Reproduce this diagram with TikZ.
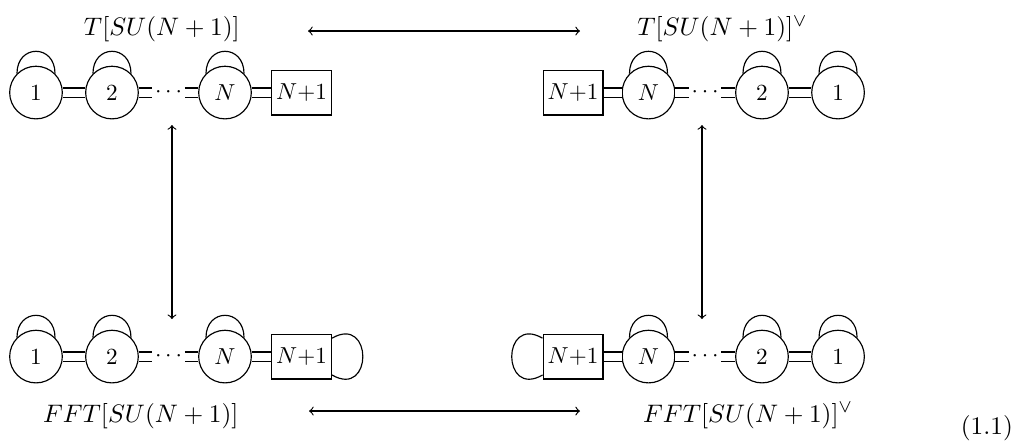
\documentclass[tikz,border=0pt]{standalone}
\newcommand{\lblsize}{\fontsize{10.95}{13.6}\selectfont}
\tikzset{
  gauge/.style={draw,circle,minimum size=0.8cm,inner sep=0pt},
  flav/.style={draw,rectangle,minimum height=0.68cm,inner sep=2pt},
  dotsn/.style={inner sep=1pt},
  dline/.style={double,double distance=3.5pt},
  adj/.style={out=90,in=90,looseness=2},
  lbl/.style={anchor=base,font=\lblsize},
}
\begin{document}
\begin{tikzpicture}[line width=0.5pt]
  \useasboundingbox (0,0) rectangle (15.61,6.78);
  % T[SU(N+1)]
  \node[gauge] (a1) at (0.547,5.373) {$1$};
  \node[gauge] (a2) at (1.702,5.373) {$2$};
  \node[dotsn] (ad) at (2.561,5.373) {$\cdots$};
  \node[gauge] (aN) at (3.420,5.373) {$N$};
  \node[flav] (aF) at (4.583,5.373) {$N{+}1$};
  \draw[dline] (a1) -- (a2);
  \draw[dline] (a2) -- (ad);
  \draw[dline] (ad) -- (aN);
  \draw[dline] (aN) -- (aF);
  \draw (a1.135) to[adj] (a1.45);
  \draw (a2.135) to[adj] (a2.45);
  \draw (aN.135) to[adj] (aN.45);
  % mirror
  \node[flav] (bF) at (8.710,5.373) {$N{+}1$};
  \node[gauge] (bN) at (9.857,5.373) {$N$};
  \node[dotsn] (bd) at (10.716,5.373) {$\cdots$};
  \node[gauge] (b2) at (11.582,5.373) {$2$};
  \node[gauge] (b1) at (12.738,5.373) {$1$};
  \draw[dline] (bF) -- (bN);
  \draw[dline] (bN) -- (bd);
  \draw[dline] (bd) -- (b2);
  \draw[dline] (b2) -- (b1);
  \draw (bN.135) to[adj] (bN.45);
  \draw (b2.135) to[adj] (b2.45);
  \draw (b1.135) to[adj] (b1.45);
  % FFT[SU(N+1)]
  \node[gauge] (c1) at (0.547,1.360) {$1$};
  \node[gauge] (c2) at (1.702,1.360) {$2$};
  \node[dotsn] (cd) at (2.561,1.360) {$\cdots$};
  \node[gauge] (cN) at (3.420,1.360) {$N$};
  \node[flav] (cF) at (4.583,1.360) {$N{+}1$};
  \draw[dline] (c1) -- (c2);
  \draw[dline] (c2) -- (cd);
  \draw[dline] (cd) -- (cN);
  \draw[dline] (cN) -- (cF);
  \draw (c1.135) to[adj] (c1.45);
  \draw (c2.135) to[adj] (c2.45);
  \draw (cN.135) to[adj] (cN.45);
  \draw ([yshift=0.28cm]cF.east) to[out=30,in=-30,looseness=3.3] ([yshift=-0.28cm]cF.east);
  % mirror
  \node[flav] (dF) at (8.710,1.360) {$N{+}1$};
  \node[gauge] (dN) at (9.857,1.360) {$N$};
  \node[dotsn] (dd) at (10.716,1.360) {$\cdots$};
  \node[gauge] (d2) at (11.582,1.360) {$2$};
  \node[gauge] (d1) at (12.738,1.360) {$1$};
  \draw[dline] (dF) -- (dN);
  \draw[dline] (dN) -- (dd);
  \draw[dline] (dd) -- (d2);
  \draw[dline] (d2) -- (d1);
  \draw (dN.135) to[adj] (dN.45);
  \draw (d2.135) to[adj] (d2.45);
  \draw (d1.135) to[adj] (d1.45);
  \draw ([yshift=0.28cm]dF.west) to[out=150,in=210,looseness=3.3] ([yshift=-0.28cm]dF.west);
  % labels
  \node[lbl] (ta) at (2.46,6.235) {$T[SU(N+1)]$};
  \node[lbl] (tb) at (10.98,6.235) {$T[SU(N+1)]^\vee$};
  \node[lbl] (tc) at (2.14,0.365) {$FFT[SU(N+1)]$};
  \node[lbl] (td) at (11.37,0.365) {$FFT[SU(N+1)]^\vee$};
  \node[lbl] (eq) at (15.0,0.18) {(1.1)};
  % arrows
  \coordinate (h1) at (4.682,6.308);
  \coordinate (h2) at (8.816,6.308);
  \coordinate (h3) at (4.697,0.532);
  \coordinate (h4) at (8.816,0.532);
  \coordinate (v1) at (2.614,4.879);
  \coordinate (v2) at (2.614,1.930);
  \coordinate (v3) at (10.670,4.879);
  \coordinate (v4) at (10.670,1.930);
  \draw[<->] (h1) -- (h2);
  \draw[<->] (h3) -- (h4);
  \draw[<->] (v1) -- (v2);
  \draw[<->] (v3) -- (v4);
\end{tikzpicture}
\end{document}
